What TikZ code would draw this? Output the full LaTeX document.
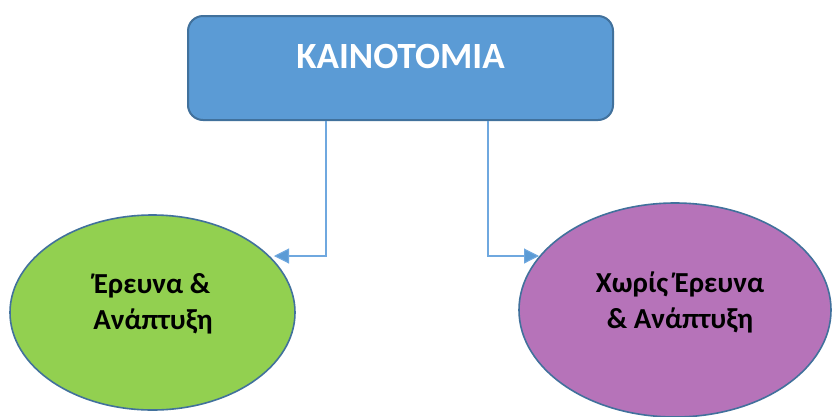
\documentclass[tikz,border=0pt]{standalone}
\usepackage{fontspec}
\setmainfont{Carlito}
\usetikzlibrary{shapes.geometric,arrows.meta}
\definecolor{boxblue}{HTML}{5B9BD5}
\definecolor{edgeblue}{HTML}{41719C}
\definecolor{linkblue}{HTML}{6FA8DF}
\definecolor{leafgreen}{HTML}{92D050}
\definecolor{plum}{HTML}{B673B9}
\tikzset{
  topbox/.style={draw=edgeblue, line width=2pt, fill=boxblue, rounded corners=15pt,
    minimum width=425pt, minimum height=104pt, inner sep=0pt},
  blob/.style={ellipse, draw=edgeblue, line width=1.6pt, inner sep=0pt},
  title/.style={font=\fontsize{37}{41}\selectfont\bfseries, text=white, inner sep=0pt},
  label/.style={font=\fontsize{29}{34}\selectfont\bfseries, text=black, inner sep=0pt},
  link/.style={draw=linkblue, line width=1.1pt,
    -{Triangle[length=15pt,width=15pt,fill=boxblue]}}
}
\begin{document}
\begin{tikzpicture}[x=1pt,y=-1pt]
  \useasboundingbox (0,0) rectangle (832,416);
  \fill[white] (0,0) rectangle (832,416);

  % main box
  \node[topbox] (box) at (400.5,68) {};
  \node[title, anchor=base] (boxtext) at (400.5,68) {ΚΑΙΝΟΤΟΜΙΑ};

  % the two branches
  \node[blob, fill=leafgreen, minimum width=285pt, minimum height=195pt] (L) at (152.5,312.5) {};
  \node[label, anchor=base] (L1) at (152,293) {Έρευνα \&};
  \node[label, anchor=base] (L2) at (153,329) {Ανάπτυξη};

  \node[blob, fill=plum, minimum width=312pt, minimum height=214pt] (R) at (675,310) {};
  \node[label, anchor=base] (R1) at (680,292) {Χωρίς Έρευνα};
  \node[label, anchor=base] (R2) at (680,328) {\& Ανάπτυξη};

  % connectors
  \coordinate (lend) at (274,256);
  \coordinate (rend) at (539,256);
  \draw[link] ([xshift=-74.5pt]box.south) |- (lend);
  \draw[link] ([xshift=87.5pt]box.south) |- (rend);
\end{tikzpicture}
\end{document}
